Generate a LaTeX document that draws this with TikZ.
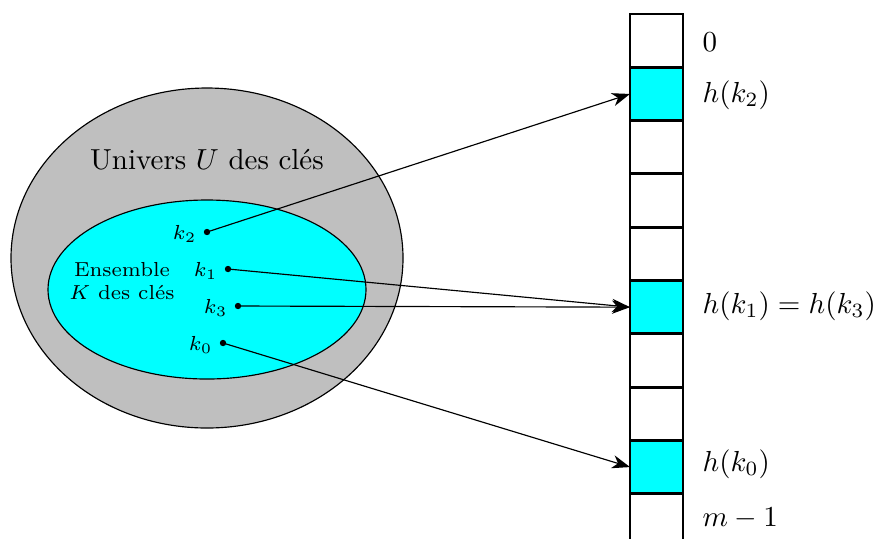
\documentclass[tikz,border=0pt]{standalone}
\usetikzlibrary{arrows.meta}
\definecolor{pcyan}{RGB}{0,255,255}
\definecolor{pgray}{RGB}{191,191,191}
\begin{document}
\begin{tikzpicture}[x=0.345pt,y=-0.345pt,
  cellbox/.style={draw=black,line width=1pt,minimum width=18.3pt,minimum height=18.4pt,inner sep=0pt,outer sep=0pt},
  hit/.style={cellbox,fill=pcyan},
  keydot/.style={circle,fill=black,inner sep=0pt,minimum size=2.2pt},
  keylab/.style={anchor=east,inner sep=0pt,font=\scriptsize},
  idx/.style={anchor=west,inner sep=0pt},
  hasharrow/.style={-{Stealth[length=6.2pt,width=4.6pt,inset=1.9pt]},line width=0.4pt}]
\useasboundingbox (0,0) rectangle (874,538);
% ellipses
\draw[fill=pgray,line width=0.4pt] (207,258) ellipse [x radius=196, y radius=170];
\draw[fill=pcyan,line width=0.4pt] (207,289.5) ellipse [x radius=159, y radius=89.5];
\node (univ) at (207,160) {Univers $U$ des clés};
\node[align=center,font=\scriptsize,inner sep=0pt] (ens) at (122,281) {Ensemble\\$K$ des clés};
% keys
\node[keydot] (k2) at (207,232) {};
\node[keydot] (k1) at (228,269) {};
\node[keydot] (k3) at (238,306) {};
\node[keydot] (k0) at (223,343) {};
\node[keylab] (l2) at (197,234) {$k_2$};
\node[keylab] (l1) at (218,271) {$k_1$};
\node[keylab] (l3) at (228,308) {$k_3$};
\node[keylab] (l0) at (213,345) {$k_0$};
% table
\node[cellbox] (c0) at (656.5,40.65) {};
\node[hit] (c1) at (656.5,93.95) {};
\node[cellbox] (c2) at (656.5,147.25) {};
\node[cellbox] (c3) at (656.5,200.55) {};
\node[cellbox] (c4) at (656.5,253.85) {};
\node[hit] (c5) at (656.5,307.15) {};
\node[cellbox] (c6) at (656.5,360.45) {};
\node[cellbox] (c7) at (656.5,413.75) {};
\node[hit] (c8) at (656.5,467.05) {};
\node[cellbox] (c9) at (656.5,520.35) {};
% index labels
\node[idx] (t0) at (702,42) {$0$};
\node[idx] (t1) at (702,95) {$h(k_2)$};
\node[idx] (t5) at (702,306) {$h(k_1)=h(k_3)$};
\node[idx] (t8) at (702,464) {$h(k_0)$};
\node[idx] (t9) at (702,518) {$m-1$};
% arrows
\draw[hasharrow] (k2.center) -- (c1.west);
\draw[hasharrow] (k1.center) -- (c5.west);
\draw[hasharrow] (k3.center) -- (c5.west);
\draw[hasharrow] (k0.center) -- (c8.west);
\end{tikzpicture}
\end{document}
